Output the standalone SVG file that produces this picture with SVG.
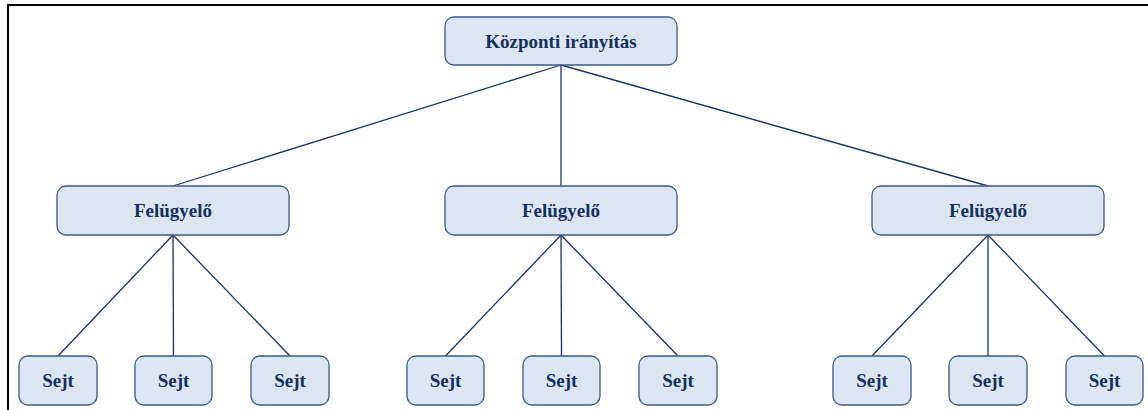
<svg xmlns="http://www.w3.org/2000/svg" width="1148" height="410" viewBox="0 0 1148 410">
<style>
.box{fill:#dce6f2;stroke:#3a5a8c;stroke-width:1.3}
.lbl{font-family:"Liberation Serif","Times New Roman",serif;font-weight:bold;font-size:19px;fill:#15305e;text-anchor:middle}
.con line{stroke:#1a3366;stroke-width:1.3}
</style>
<rect width="1148" height="410" fill="#ffffff"/>
<path d="M8,410 V5 H1148" fill="none" stroke="#000" stroke-width="2"/>
<g id="connectors" class="con">
<line x1="561" y1="65" x2="173" y2="186"/>
<line x1="561" y1="65" x2="561" y2="186"/>
<line x1="561" y1="65" x2="988" y2="186"/>
<line x1="173" y1="235" x2="58" y2="356"/>
<line x1="173" y1="235" x2="173.5" y2="356"/>
<line x1="173" y1="235" x2="290" y2="356"/>
<line x1="561" y1="235" x2="445.5" y2="356"/>
<line x1="561" y1="235" x2="561.5" y2="356"/>
<line x1="561" y1="235" x2="678" y2="356"/>
<line x1="988" y1="235" x2="872" y2="356"/>
<line x1="988" y1="235" x2="988" y2="356"/>
<line x1="988" y1="235" x2="1104.5" y2="356"/>
</g>
<g id="kozponti"><rect class="box" x="445" y="17" width="232" height="48" rx="9"/><text class="lbl" x="561" y="48">Központi irányítás</text></g>
<g id="felugyelo1"><rect class="box" x="57" y="186" width="232" height="49" rx="9"/><text class="lbl" x="173" y="217">Felügyelő</text></g>
<g id="felugyelo2"><rect class="box" x="445" y="186" width="232" height="49" rx="9"/><text class="lbl" x="561" y="217">Felügyelő</text></g>
<g id="felugyelo3"><rect class="box" x="872" y="186" width="232" height="49" rx="9"/><text class="lbl" x="988" y="217">Felügyelő</text></g>
<g id="sejt1"><rect class="box" x="19" y="356" width="78" height="49" rx="9"/><text class="lbl" x="58" y="387">Sejt</text></g>
<g id="sejt2"><rect class="box" x="135" y="356" width="77" height="49" rx="9"/><text class="lbl" x="173.5" y="387">Sejt</text></g>
<g id="sejt3"><rect class="box" x="251" y="356" width="78" height="49" rx="9"/><text class="lbl" x="290" y="387">Sejt</text></g>
<g id="sejt4"><rect class="box" x="407" y="356" width="77" height="49" rx="9"/><text class="lbl" x="445.5" y="387">Sejt</text></g>
<g id="sejt5"><rect class="box" x="523" y="356" width="77" height="49" rx="9"/><text class="lbl" x="561.5" y="387">Sejt</text></g>
<g id="sejt6"><rect class="box" x="639" y="356" width="78" height="49" rx="9"/><text class="lbl" x="678" y="387">Sejt</text></g>
<g id="sejt7"><rect class="box" x="833" y="356" width="78" height="49" rx="9"/><text class="lbl" x="872" y="387">Sejt</text></g>
<g id="sejt8"><rect class="box" x="949" y="356" width="78" height="49" rx="9"/><text class="lbl" x="988" y="387">Sejt</text></g>
<g id="sejt9"><rect class="box" x="1066" y="356" width="77" height="49" rx="9"/><text class="lbl" x="1104.5" y="387">Sejt</text></g>
</svg>
